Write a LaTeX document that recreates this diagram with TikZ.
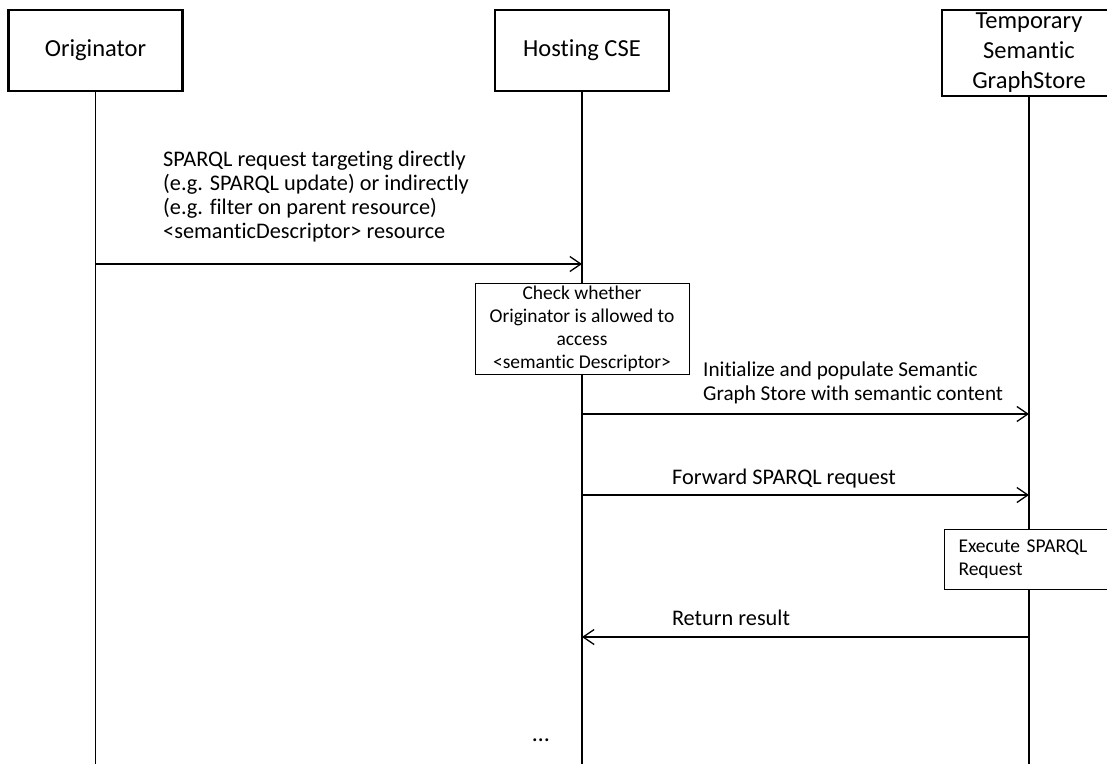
\documentclass[tikz,border=0pt]{standalone}
\usepackage{fontspec}
\setmainfont{Carlito}[Ligatures=NoCommon]
\usetikzlibrary{arrows.meta,positioning}

\begin{document}
\begin{tikzpicture}[x=1pt, y=-1pt,
    party/.style={draw, line width=2.8pt, fill=white, align=center,
      minimum width=174pt, minimum height=81pt, inner sep=0pt,
      font=\fontsize{24.5}{30}\selectfont},
    stepbox/.style={draw, line width=1pt, fill=white, inner sep=0pt,
      font=\fontsize{19.5}{23}\selectfont},
    msg/.style={line width=1.3pt,
      -{Straight Barb[length=11pt, width=15pt, line width=1.3pt]}},
    lbl/.style={inner sep=0pt, align=left, font=\fontsize{22.3}{24}\selectfont}]
  \useasboundingbox (0,0) rectangle (1107,764);

  %% ── Parties ──────────────────────────────────────────────
  \node[party] (orig) at (95.5,50.5) {Originator};
  \node[party] (host) at (582,50.5) {Hosting CSE};
  \node[party, minimum height=86pt] (store) at (1029,53)
    {Temporary\\Semantic\\GraphStore};

  %% ── Lifelines ────────────────────────────────────────────
  \foreach \p in {orig,host,store}{
    \coordinate (\p-end) at (\p.south |- 0,764);
    \draw[line width=1.3pt] (\p.south) -- (\p-end);
  }

  %% ── Message end points ───────────────────────────────────
  \coordinate (req-a)  at (orig.south |- 0,264);
  \coordinate (req-b)  at (host.south |- 0,264);
  \coordinate (init-a) at (host.south |- 0,414);
  \coordinate (init-b) at (store.south |- 0,414);
  \coordinate (fwd-a)  at (host.south |- 0,495);
  \coordinate (fwd-b)  at (store.south |- 0,495);
  \coordinate (ret-a)  at (store.south |- 0,637);
  \coordinate (ret-b)  at (host.south |- 0,637);

  %% ── Messages ─────────────────────────────────────────────
  \draw[msg] (req-a) -- (req-b);
  \node[lbl, anchor=west] (reqlbl) at (163,197)
    {SPARQL request targeting directly\\(e.g. SPARQL update) or indirectly\\
     (e.g. filter on parent resource)\\<semanticDescriptor> resource};

  \node[stepbox, minimum width=214pt, minimum height=91pt, align=center]
    (check) at (582,328.5)
    {Check whether\\Originator is allowed to\\access\\<semantic Descriptor>};

  \draw[msg] (init-a) -- (init-b);
  \node[lbl, anchor=west, font=\fontsize{21.2}{24}\selectfont] (initlbl)
    at (703,383)
    {Initialize and populate Semantic\\Graph Store with semantic content};

  \draw[msg] (fwd-a) -- (fwd-b);
  \node[lbl] (fwdlbl) at (784,479) {Forward SPARQL request};

  \node[stepbox, anchor=south west, minimum width=180pt, minimum height=60pt,
    align=left, text width=152pt, inner xsep=14pt] (exec) at (944,590)
    {Execute SPARQL\\Request};

  \draw[msg] (ret-a) -- (ret-b);
  \node[lbl] (retlbl) at (731,618) {Return result};

  %% ── Continuation ─────────────────────────────────────────
  \node[lbl, font=\fontsize{24}{28}\selectfont] (more) at (541,740) {\dots};
\end{tikzpicture}
\end{document}
